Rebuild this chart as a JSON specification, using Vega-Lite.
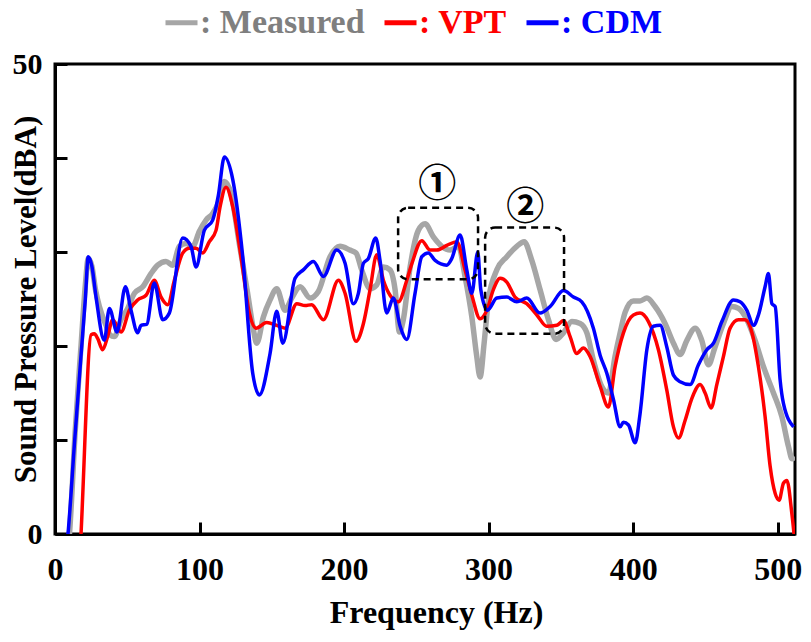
{
  "$schema": "https://vega.github.io/schema/vega-lite/v6.json",
  "width": 740,
  "height": 470,
  "autosize": {"type": "none"},
  "padding": {"left": 55, "top": 64, "right": 16, "bottom": 108},
  "background": "white",
  "config": {
    "view": {"stroke": "black", "strokeWidth": 3},
    "axis": {
      "grid": false,
      "domainColor": "black",
      "domainWidth": 3,
      "tickColor": "black",
      "tickWidth": 3,
      "tickSize": -12,
      "labelFont": "Liberation Serif",
      "labelFontWeight": "bold",
      "labelColor": "black",
      "labelFlush": false,
      "labelOverlap": false,
      "titleFont": "Liberation Serif",
      "titleFontWeight": "bold",
      "titleColor": "black"
    },
    "legend": {
      "labelFont": "Liberation Serif",
      "labelFontWeight": "bold",
      "labelFontSize": 34,
      "labelLimit": 0
    }
  },
  "data": {
    "values": [
      {"s":"Measured","f":8,"v":-3},{"s":"Measured","f":10,"v":0},{"s":"Measured","f":14,"v":11},{"s":"Measured","f":18,"v":20},{"s":"Measured","f":21,"v":26.5},{"s":"Measured","f":23,"v":29.3},{"s":"Measured","f":25.5,"v":28.5},{"s":"Measured","f":28,"v":26},{"s":"Measured","f":30.7,"v":24.2},{"s":"Measured","f":35.3,"v":22.2},{"s":"Measured","f":38,"v":21.2},{"s":"Measured","f":41,"v":21.0},{"s":"Measured","f":45.7,"v":22.8},{"s":"Measured","f":50.3,"v":24.0},{"s":"Measured","f":54.9,"v":25.6},{"s":"Measured","f":60.7,"v":26.3},{"s":"Measured","f":66.4,"v":27.7},{"s":"Measured","f":71.1,"v":28.6},{"s":"Measured","f":76.8,"v":29.0},{"s":"Measured","f":81.5,"v":28.6},{"s":"Measured","f":86,"v":30.6},{"s":"Measured","f":90.7,"v":30.9},{"s":"Measured","f":95.3,"v":30.6},{"s":"Measured","f":99.9,"v":32.2},{"s":"Measured","f":104.5,"v":33.4},{"s":"Measured","f":109.1,"v":34.1},{"s":"Measured","f":113.7,"v":35.5},{"s":"Measured","f":117.2,"v":37.5},{"s":"Measured","f":121.8,"v":36.2},{"s":"Measured","f":127.5,"v":30.9},{"s":"Measured","f":133.3,"v":25.6},{"s":"Measured","f":137,"v":22},{"s":"Measured","f":139.6,"v":20.3},{"s":"Measured","f":144.2,"v":23.1},{"s":"Measured","f":148.8,"v":24.9},{"s":"Measured","f":153.4,"v":26.1},{"s":"Measured","f":159.2,"v":23.8},{"s":"Measured","f":163.8,"v":25.1},{"s":"Measured","f":169.6,"v":26.3},{"s":"Measured","f":176.5,"v":25.1},{"s":"Measured","f":182.2,"v":25.8},{"s":"Measured","f":190.3,"v":29.5},{"s":"Measured","f":197.2,"v":30.6},{"s":"Measured","f":204.2,"v":30.2},{"s":"Measured","f":208.3,"v":29.9},{"s":"Measured","f":212.2,"v":28.1},{"s":"Measured","f":218,"v":26.1},{"s":"Measured","f":222.6,"v":26.5},{"s":"Measured","f":227.2,"v":28.4},{"s":"Measured","f":231.8,"v":28.1},{"s":"Measured","f":235.3,"v":26.0},{"s":"Measured","f":238.3,"v":21.5},{"s":"Measured","f":241,"v":22.8},{"s":"Measured","f":245.7,"v":28.4},{"s":"Measured","f":251.4,"v":32.3},{"s":"Measured","f":256.1,"v":33.0},{"s":"Measured","f":261.8,"v":31.6},{"s":"Measured","f":267.6,"v":30.6},{"s":"Measured","f":273.4,"v":30.2},{"s":"Measured","f":279.1,"v":30.6},{"s":"Measured","f":283.7,"v":27.4},{"s":"Measured","f":288.4,"v":23.1},{"s":"Measured","f":291.8,"v":18.9},{"s":"Measured","f":294.1,"v":16.7},{"s":"Measured","f":296.9,"v":20.3},{"s":"Measured","f":299.9,"v":24.9},{"s":"Measured","f":305.7,"v":28.1},{"s":"Measured","f":312.6,"v":29.5},{"s":"Measured","f":319.5,"v":30.6},{"s":"Measured","f":324.6,"v":31.1},{"s":"Measured","f":329.9,"v":29.1},{"s":"Measured","f":335.6,"v":26.0},{"s":"Measured","f":341.4,"v":22.8},{"s":"Measured","f":346.7,"v":20.7},{"s":"Measured","f":351.8,"v":21.4},{"s":"Measured","f":357.6,"v":22.6},{"s":"Measured","f":363.3,"v":22.4},{"s":"Measured","f":368,"v":21.4},{"s":"Measured","f":372.5,"v":18.5},{"s":"Measured","f":378.3,"v":15.7},{"s":"Measured","f":382.9,"v":15.0},{"s":"Measured","f":387.5,"v":18.9},{"s":"Measured","f":391,"v":21.4},{"s":"Measured","f":394.5,"v":23.6},{"s":"Measured","f":400.2,"v":24.8},{"s":"Measured","f":404.8,"v":24.8},{"s":"Measured","f":409.5,"v":25.1},{"s":"Measured","f":415.2,"v":24.2},{"s":"Measured","f":422.1,"v":22.4},{"s":"Measured","f":427.9,"v":20.3},{"s":"Measured","f":432.5,"v":19.1},{"s":"Measured","f":437.2,"v":20.6},{"s":"Measured","f":442.9,"v":21.9},{"s":"Measured","f":447.5,"v":20.6},{"s":"Measured","f":452.1,"v":18.0},{"s":"Measured","f":456.7,"v":19.9},{"s":"Measured","f":462.5,"v":22.4},{"s":"Measured","f":468.3,"v":24.2},{"s":"Measured","f":472.9,"v":24.0},{"s":"Measured","f":478.7,"v":22.8},{"s":"Measured","f":484.4,"v":20.6},{"s":"Measured","f":490.2,"v":17.8},{"s":"Measured","f":497.1,"v":15.0},{"s":"Measured","f":502.9,"v":12.5},{"s":"Measured","f":507.5,"v":9.3},{"s":"Measured","f":510,"v":8.0},{"s":"Measured","f":512,"v":8.2},
      {"s":"VPT","f":17,"v":-3},{"s":"VPT","f":18,"v":0},{"s":"VPT","f":25,"v":21.2},{"s":"VPT","f":27.2,"v":21.3},{"s":"VPT","f":29.5,"v":20.8},{"s":"VPT","f":33,"v":19.6},{"s":"VPT","f":36.4,"v":21.0},{"s":"VPT","f":39.9,"v":22.8},{"s":"VPT","f":45.7,"v":21.5},{"s":"VPT","f":51.4,"v":23.8},{"s":"VPT","f":57.2,"v":24.9},{"s":"VPT","f":63,"v":25.4},{"s":"VPT","f":68.7,"v":27.0},{"s":"VPT","f":73.4,"v":25.2},{"s":"VPT","f":78,"v":24.4},{"s":"VPT","f":82.6,"v":27.0},{"s":"VPT","f":88.4,"v":29.9},{"s":"VPT","f":93,"v":30.4},{"s":"VPT","f":97.6,"v":30.4},{"s":"VPT","f":102.2,"v":29.9},{"s":"VPT","f":106.8,"v":31.1},{"s":"VPT","f":111.4,"v":32.3},{"s":"VPT","f":114.2,"v":34.8},{"s":"VPT","f":118.3,"v":36.9},{"s":"VPT","f":123,"v":34.8},{"s":"VPT","f":128.7,"v":29.5},{"s":"VPT","f":134.5,"v":23.5},{"s":"VPT","f":139.1,"v":21.9},{"s":"VPT","f":146.5,"v":22.5},{"s":"VPT","f":153.4,"v":22.2},{"s":"VPT","f":159.2,"v":21.9},{"s":"VPT","f":167.3,"v":24.5},{"s":"VPT","f":173,"v":24.3},{"s":"VPT","f":177.6,"v":24.4},{"s":"VPT","f":185.7,"v":22.8},{"s":"VPT","f":196.1,"v":27.0},{"s":"VPT","f":200.7,"v":25.6},{"s":"VPT","f":208.3,"v":20.5},{"s":"VPT","f":213.4,"v":22.4},{"s":"VPT","f":218,"v":26.0},{"s":"VPT","f":222.6,"v":29.7},{"s":"VPT","f":227.2,"v":27.0},{"s":"VPT","f":231.8,"v":25.4},{"s":"VPT","f":237.6,"v":24.7},{"s":"VPT","f":243.4,"v":27.0},{"s":"VPT","f":247,"v":28.8},{"s":"VPT","f":253.8,"v":31.2},{"s":"VPT","f":259.5,"v":30.2},{"s":"VPT","f":264.1,"v":30.2},{"s":"VPT","f":271.1,"v":30.7},{"s":"VPT","f":278,"v":31.1},{"s":"VPT","f":283.7,"v":28.1},{"s":"VPT","f":288.4,"v":25.4},{"s":"VPT","f":294.1,"v":22.9},{"s":"VPT","f":298.8,"v":23.8},{"s":"VPT","f":303.3,"v":26.0},{"s":"VPT","f":308,"v":27.2},{"s":"VPT","f":312.6,"v":26.8},{"s":"VPT","f":318.3,"v":25.2},{"s":"VPT","f":326.4,"v":24.5},{"s":"VPT","f":333.4,"v":23.3},{"s":"VPT","f":340.3,"v":22.1},{"s":"VPT","f":347.2,"v":22.2},{"s":"VPT","f":351.8,"v":22.7},{"s":"VPT","f":356.4,"v":21.0},{"s":"VPT","f":361,"v":19.2},{"s":"VPT","f":365.6,"v":19.8},{"s":"VPT","f":370.2,"v":18.9},{"s":"VPT","f":377.2,"v":15.7},{"s":"VPT","f":382.9,"v":13.5},{"s":"VPT","f":387.5,"v":17.8},{"s":"VPT","f":393.3,"v":21.4},{"s":"VPT","f":400.2,"v":23.3},{"s":"VPT","f":404.8,"v":23.5},{"s":"VPT","f":410.6,"v":22.6},{"s":"VPT","f":417.5,"v":19.6},{"s":"VPT","f":423.3,"v":15.3},{"s":"VPT","f":427.9,"v":11.4},{"s":"VPT","f":431.4,"v":10.2},{"s":"VPT","f":436,"v":12.1},{"s":"VPT","f":440.6,"v":14.4},{"s":"VPT","f":446.4,"v":15.9},{"s":"VPT","f":449.8,"v":15.0},{"s":"VPT","f":454,"v":13.4},{"s":"VPT","f":457.9,"v":15.9},{"s":"VPT","f":462.5,"v":18.9},{"s":"VPT","f":467.1,"v":21.9},{"s":"VPT","f":472.9,"v":22.8},{"s":"VPT","f":477.5,"v":22.8},{"s":"VPT","f":482.1,"v":21.5},{"s":"VPT","f":486.7,"v":17.8},{"s":"VPT","f":491.3,"v":12.5},{"s":"VPT","f":494.8,"v":7.2},{"s":"VPT","f":498.3,"v":4.3},{"s":"VPT","f":501,"v":3.6},{"s":"VPT","f":504,"v":5.4},{"s":"VPT","f":506.4,"v":5.7},{"s":"VPT","f":509.8,"v":2.2},{"s":"VPT","f":512,"v":-1},
      {"s":"CDM","f":7,"v":-3},{"s":"CDM","f":9,"v":0},{"s":"CDM","f":13.4,"v":9.5},{"s":"CDM","f":18,"v":19},{"s":"CDM","f":21,"v":25},{"s":"CDM","f":23,"v":29.5},{"s":"CDM","f":25.5,"v":28.5},{"s":"CDM","f":28.4,"v":25.2},{"s":"CDM","f":34.1,"v":20.6},{"s":"CDM","f":37.6,"v":24.0},{"s":"CDM","f":42.9,"v":21.5},{"s":"CDM","f":48.7,"v":26.3},{"s":"CDM","f":52.6,"v":23.8},{"s":"CDM","f":57.2,"v":21.4},{"s":"CDM","f":59.5,"v":22.2},{"s":"CDM","f":63.4,"v":22.3},{"s":"CDM","f":68.7,"v":26.7},{"s":"CDM","f":74.5,"v":22.8},{"s":"CDM","f":79.1,"v":23.5},{"s":"CDM","f":88.4,"v":31.5},{"s":"CDM","f":94.1,"v":30.6},{"s":"CDM","f":97.6,"v":28.4},{"s":"CDM","f":103.3,"v":32.3},{"s":"CDM","f":109.1,"v":33.4},{"s":"CDM","f":113,"v":36},{"s":"CDM","f":117.2,"v":40.1},{"s":"CDM","f":123,"v":37.7},{"s":"CDM","f":129.9,"v":29.5},{"s":"CDM","f":136.8,"v":17.1},{"s":"CDM","f":141.4,"v":14.8},{"s":"CDM","f":148.8,"v":19.2},{"s":"CDM","f":153.4,"v":23.7},{"s":"CDM","f":157.6,"v":20.3},{"s":"CDM","f":166.1,"v":27.2},{"s":"CDM","f":171.8,"v":28.1},{"s":"CDM","f":178.8,"v":29.0},{"s":"CDM","f":185.7,"v":27.4},{"s":"CDM","f":194.9,"v":30.2},{"s":"CDM","f":200.7,"v":28.8},{"s":"CDM","f":206.4,"v":24.5},{"s":"CDM","f":209.9,"v":25.6},{"s":"CDM","f":213.4,"v":28.8},{"s":"CDM","f":216.8,"v":29.3},{"s":"CDM","f":221.9,"v":31.5},{"s":"CDM","f":224.9,"v":29.1},{"s":"CDM","f":229.5,"v":23.5},{"s":"CDM","f":234.1,"v":25.1},{"s":"CDM","f":238.8,"v":22.1},{"s":"CDM","f":243.4,"v":20.7},{"s":"CDM","f":249.1,"v":25.6},{"s":"CDM","f":253.8,"v":29.5},{"s":"CDM","f":258.3,"v":29.9},{"s":"CDM","f":263,"v":29.1},{"s":"CDM","f":271,"v":28.6},{"s":"CDM","f":274.5,"v":29.3},{"s":"CDM","f":280.3,"v":31.8},{"s":"CDM","f":284.9,"v":28.1},{"s":"CDM","f":288.4,"v":25.6},{"s":"CDM","f":292.5,"v":30.0},{"s":"CDM","f":294.6,"v":26.0},{"s":"CDM","f":299.2,"v":23.8},{"s":"CDM","f":305.7,"v":25.1},{"s":"CDM","f":312.6,"v":25.2},{"s":"CDM","f":319.5,"v":24.7},{"s":"CDM","f":326.4,"v":25.1},{"s":"CDM","f":335.6,"v":23.5},{"s":"CDM","f":342.6,"v":24.2},{"s":"CDM","f":351.8,"v":25.9},{"s":"CDM","f":358.7,"v":25.2},{"s":"CDM","f":364.5,"v":24.7},{"s":"CDM","f":372.5,"v":21.9},{"s":"CDM","f":377.2,"v":19.0},{"s":"CDM","f":381.8,"v":17.1},{"s":"CDM","f":386.4,"v":14.3},{"s":"CDM","f":391,"v":11.4},{"s":"CDM","f":393.3,"v":11.9},{"s":"CDM","f":396.8,"v":11.6},{"s":"CDM","f":401.4,"v":9.7},{"s":"CDM","f":404.8,"v":12.8},{"s":"CDM","f":409.5,"v":19.6},{"s":"CDM","f":414,"v":22.1},{"s":"CDM","f":418.7,"v":22.2},{"s":"CDM","f":423.3,"v":19.9},{"s":"CDM","f":427.9,"v":16.9},{"s":"CDM","f":432.5,"v":16.2},{"s":"CDM","f":439.4,"v":15.9},{"s":"CDM","f":445.2,"v":18.0},{"s":"CDM","f":451,"v":19.6},{"s":"CDM","f":455.6,"v":20.3},{"s":"CDM","f":461.4,"v":22.6},{"s":"CDM","f":469.4,"v":24.9},{"s":"CDM","f":474,"v":24.7},{"s":"CDM","f":478.7,"v":23.8},{"s":"CDM","f":483.3,"v":22.2},{"s":"CDM","f":486.7,"v":23.3},{"s":"CDM","f":491.3,"v":26.3},{"s":"CDM","f":493.6,"v":27.7},{"s":"CDM","f":496,"v":24.5},{"s":"CDM","f":498.3,"v":24.2},{"s":"CDM","f":501.7,"v":16.4},{"s":"CDM","f":504,"v":13.9},{"s":"CDM","f":511,"v":11.4}
    ]
  },
  "encoding": {
    "x": {
      "field": "f", "type": "quantitative",
      "scale": {"domain": [0, 512], "nice": false, "zero": false},
      "axis": {
        "values": [0, 100, 200, 300, 400, 500],
        "labelFontSize": 32,
        "labelPadding": 32,
        "title": "Frequency (Hz)",
        "titleFontSize": 32,
        "titleX": 381,
        "titleY": 88,
        "titleBaseline": "alphabetic"
      }
    },
    "y": {
      "field": "v", "type": "quantitative",
      "scale": {"domain": [0, 50], "nice": false},
      "axis": {
        "values": [0, 10, 20, 30, 40, 50],
        "labelExpr": "datum.value == 0 || datum.value == 50 ? datum.label : ''",
        "labelFontSize": 30,
        "labelPadding": 25,
        "title": "Sound Pressure Level(dBA)",
        "titleFontSize": 31,
        "titleAngle": -90,
        "titleX": -20,
        "titleY": 235,
        "titleBaseline": "alphabetic",
        "titleAlign": "center"
      }
    },
    "color": {
      "field": "s", "type": "nominal",
      "scale": {"domain": ["Measured", "VPT", "CDM"], "range": ["#a6a6a6", "#ff0000", "#0000ff"]},
      "legend": {
        "orient": "none",
        "legendX": 108,
        "legendY": -60,
        "direction": "horizontal",
        "title": null,
        "padding": 0,
        "symbolType": "stroke",
        "symbolSize": 1024,
        "symbolStrokeWidth": 5,
        "symbolStrokeColor": {"expr": "datum.value == 'Measured' ? '#7f7f7f' : datum.value == 'VPT' ? '#ff0000' : '#0000ff'"},
        "labelFont": "Liberation Serif",
        "labelFontWeight": "bold",
        "labelFontSize": 34,
        "labelLimit": 0,
        "labelOffset": 0,
        "columnPadding": 9,
        "labelExpr": "': ' + datum.label",
        "labelColor": {"expr": "datum.value == 'Measured' ? '#7f7f7f' : datum.value == 'VPT' ? '#ff0000' : '#0000ff'"}
      }
    }
  },
  "layer": [
    {
      "transform": [{"filter": "datum.s == 'Measured'"}],
      "mark": {"type": "line", "strokeWidth": 5.5, "interpolate": "monotone", "clip": true}
    },
    {
      "transform": [{"filter": "datum.s == 'VPT'"}],
      "mark": {"type": "line", "strokeWidth": 3.5, "interpolate": "monotone", "clip": true}
    },
    {
      "transform": [{"filter": "datum.s == 'CDM'"}],
      "mark": {"type": "line", "strokeWidth": 3.5, "interpolate": "monotone", "clip": true}
    },
    {
      "data": {"values": [
        {"x1": 237.4, "x2": 292.7, "y1": 27.1, "y2": 34.7},
        {"x1": 297.6, "x2": 352.2, "y1": 21.3, "y2": 32.6}
      ]},
      "mark": {"type": "rect", "filled": false, "stroke": "black", "strokeWidth": 2.5, "strokeDash": [7, 5], "cornerRadius": 10},
      "encoding": {
        "x": {"field": "x1", "type": "quantitative"},
        "x2": {"field": "x2"},
        "y": {"field": "y1", "type": "quantitative"},
        "y2": {"field": "y2"},
        "color": null
      }
    },
    {
      "data": {"values": [
        {"t": "①", "x": 264.4, "y": 37.1},
        {"t": "②", "x": 325.3, "y": 34.7}
      ]},
      "mark": {"type": "text", "font": "Noto Sans CJK SC", "fontWeight": "bold", "fontSize": 38, "baseline": "middle", "align": "center", "color": "black"},
      "encoding": {
        "x": {"field": "x", "type": "quantitative"},
        "y": {"field": "y", "type": "quantitative"},
        "text": {"field": "t"},
        "color": null
      }
    }
  ]
}
